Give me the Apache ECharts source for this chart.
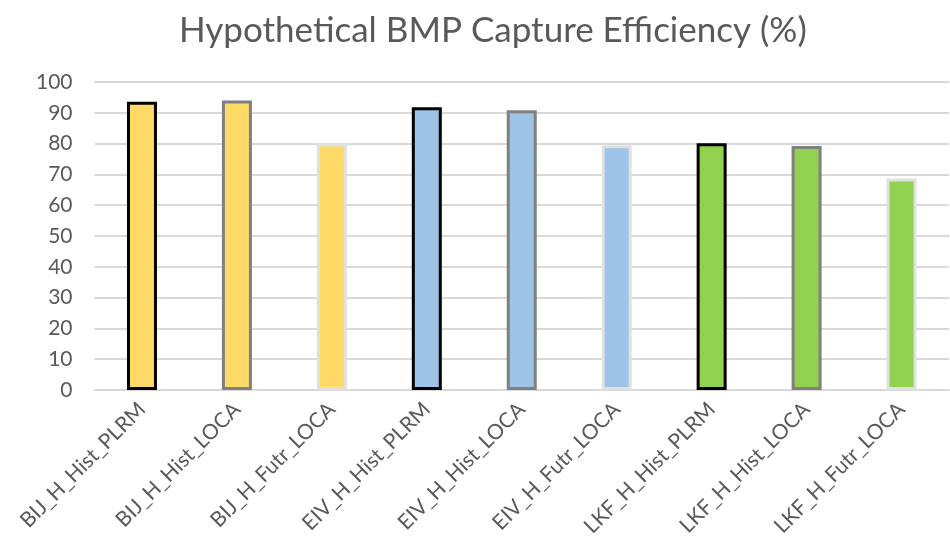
<!DOCTYPE html>
<html>
<head>
<meta charset="utf-8">
<script src="https://cdn.jsdelivr.net/npm/echarts@6/dist/echarts.min.js"></script>
<style>html,body{margin:0;padding:0;background:#fff}#c{width:950px;height:554px}</style>
</head>
<body>
<div id="c"></div>
<script>
var categories = ['BIJ_H_Hist_PLRM','BIJ_H_Hist_LOCA','BIJ_H_Futr_LOCA','EIV_H_Hist_PLRM','EIV_H_Hist_LOCA','EIV_H_Futr_LOCA','LKF_H_Hist_PLRM','LKF_H_Hist_LOCA','LKF_H_Futr_LOCA'];
var values = [93.6, 94.0, 80.0, 91.8, 90.8, 79.5, 80.1, 79.2, 68.7];
var fillColors = ['#FFD966','#FFD966','#FFD966','#9DC3E6','#9DC3E6','#9DC3E6','#92D050','#92D050','#92D050'];
var borderColors = ['#000000','#808080','#E0E0E0','#000000','#808080','#E0E0E0','#000000','#808080','#E0E0E0'];
var yTicks = {min: 0, max: 100, interval: 10};

var chart = echarts.init(document.getElementById('c'), null, {renderer: 'canvas'});
chart.setOption({
  animation: false,
  title: {
    text: 'Hypothetical BMP Capture Efficiency (%)',
    left: 174, top: 8,
    textStyle: {fontFamily: 'Lato', fontSize: 35, fontWeight: 'normal', color: '#595959'}
  },
  grid: {left: 94.5, right: 1, top: 82, bottom: 164, containLabel: false},
  xAxis: {
    type: 'category', data: categories,
    axisLine: {show: true, lineStyle: {color: '#D9D9D9', width: 2}},
    axisTick: {show: false},
    axisLabel: {rotate: 45, fontFamily: 'Lato', fontSize: 21, color: '#595959', margin: 16, interval: 0}
  },
  yAxis: {
    type: 'value', min: yTicks.min, max: yTicks.max, interval: yTicks.interval,
    axisLine: {show: false}, axisTick: {show: false},
    splitLine: {lineStyle: {color: '#D9D9D9', width: 2}},
    axisLabel: {fontFamily: 'Lato', fontSize: 21, color: '#595959', margin: 22}
  },
  series: [{
    type: 'bar', barWidth: 30,
    data: values.map(function(v, i){
      return {value: v, itemStyle: {color: fillColors[i], borderColor: borderColors[i], borderWidth: 3}};
    })
  }]
});
</script>
</body>
</html>
